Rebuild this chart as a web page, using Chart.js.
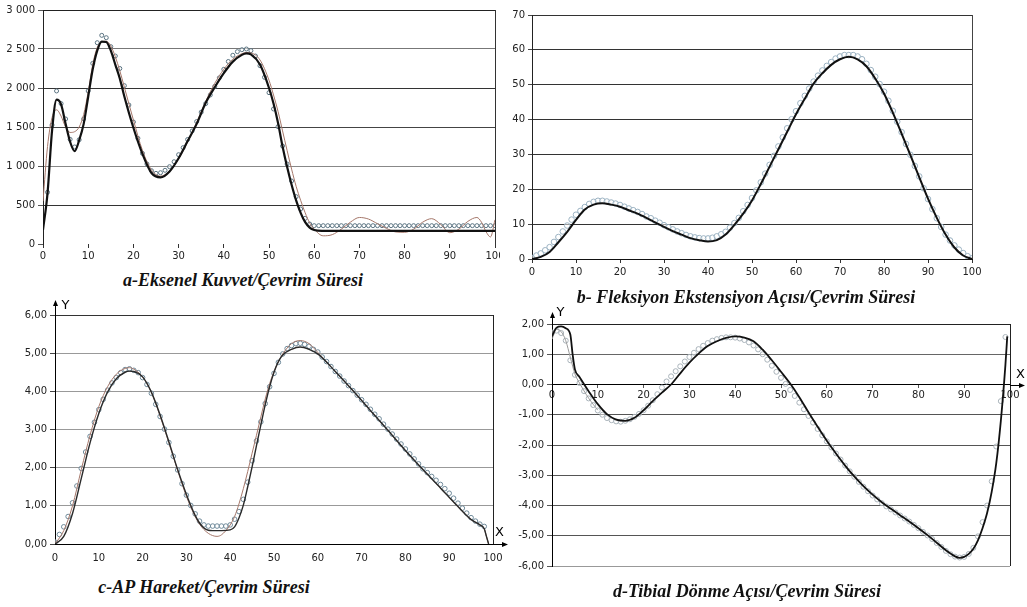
<!DOCTYPE html>
<html>
<head>
<meta charset="utf-8">
<script src="https://cdn.jsdelivr.net/npm/chart.js@4.4.1/dist/chart.umd.min.js"></script>
<style>
  html, body { margin: 0; padding: 0; background: #fff; width: 1027px; height: 607px; overflow: hidden; position: relative; }
  canvas { position: absolute; }
  .ttl { position: absolute; font-family: "Liberation Serif", "Times New Roman", serif; font-style: italic; font-weight: bold; font-size: 18px; color: #111; text-align: center; white-space: nowrap; line-height: 20px; }
</style>
</head>
<body>
<canvas id="chartA" width="500" height="268" style="left:0;top:0"></canvas>
<canvas id="chartB" width="527" height="285" style="left:500px;top:0"></canvas>
<canvas id="chartC" width="520" height="270" style="left:0;top:300px"></canvas>
<canvas id="chartD" width="527" height="275" style="left:500px;top:300px"></canvas>
<div class="ttl" style="left:43px;width:400px;top:270px">a-Eksenel Kuvvet/Çevrim Süresi</div>
<div class="ttl" style="left:546px;width:400px;top:287px">b- Fleksiyon Ekstensiyon Açısı/Çevrim Süresi</div>
<div class="ttl" style="left:4px;width:400px;top:577px">c-AP Hareket/Çevrim Süresi</div>
<div class="ttl" style="left:547px;width:400px;top:581px">d-Tibial Dönme Açısı/Çevrim Süresi</div>
<script>
(() => {
    "use strict";

    // a - axial force; circles sit at x = 0..100 (index = x)
    const aCircle = [
        null, 663, 1526, 1962, 1800, 1603, 1342, 1244, 1336, 1603,
        1962, 2316, 2581, 2675, 2645, 2530, 2410, 2250, 2030, 1782,
        1564, 1355, 1162, 1026, 940, 906, 914, 945, 991, 1055,
        1145, 1235, 1340, 1450, 1570, 1690, 1800, 1910, 2020, 2130,
        2240, 2340, 2420, 2466, 2491, 2500, 2479, 2410, 2286, 2137,
        1940, 1731, 1504, 1256, 1026, 808, 607, 449, 329, 256,
        235, 235, 235, 235, 235, 235, 235, 235, 235, 235,
        235, 235, 235, 235, 235, 235, 235, 235, 235, 235,
        235, 235, 235, 235, 235, 235, 235, 235, 235, 235,
        235, 235, 235, 235, 235, 235, 235, 235, 235, 235,
        235
    ];
    const aLineX = [0, 1, 2, 3, 4, 5, 6, 7, 8, 9, 10, 11, 12, 13, 14, 15, 16, 17, 18,
        20, 22, 24, 26, 28, 30, 32, 34, 36, 38, 40, 42, 44, 45, 46, 48, 50,
        51, 52, 53, 54, 55, 56, 57, 58, 59, 60,
        62, 64, 66, 68, 70, 72, 74, 76, 78, 80, 82, 84, 86, 88, 90, 92, 94, 96, 97, 98, 99, 100];
    const aBlack = [180, 650, 1450, 1850, 1790, 1540, 1310, 1190, 1330, 1540, 1888, 2240, 2480, 2595, 2590, 2480, 2300, 2120, 1890,
        1490, 1155, 910, 855, 930, 1100, 1320, 1540, 1810, 2010, 2190, 2338, 2425, 2444, 2430, 2300, 2000,
        1800, 1550, 1250, 990, 760, 560, 400, 280, 210, 180,
        168, 167, 167, 167, 167, 167, 167, 167, 167, 167, 167, 167, 167, 167, 167, 167, 167, 167, 167, 167, 167, 167];
    const aBrown = [550, 1250, 1620, 1720, 1640, 1500, 1430, 1440, 1500, 1660, 1950, 2300, 2520, 2590, 2600, 2540, 2400, 2220, 2010,
        1590, 1200, 950, 870, 935, 1090, 1310, 1560, 1830, 2060, 2240, 2370, 2440, 2455, 2450, 2360, 2100,
        1910, 1700, 1450, 1200, 960, 740, 560, 400, 270, 190,
        105, 120, 190, 280, 340, 320, 260, 200, 155, 150, 190, 280, 325, 250, 145, 190, 290, 340, 280, 160, 90, 310];

    // b - flexion / extension angle
    const bCircle = [
        0.3, 1.0, 1.6, 2.5, 3.4, 4.9, 6.3, 7.9, 9.6, 11.3,
        12.7, 13.8, 14.9, 15.8, 16.4, 16.7, 16.7, 16.5, 16.2, 15.9,
        15.5, 15.0, 14.5, 14.0, 13.5, 12.9, 12.2, 11.7, 11.0, 10.4,
        9.7, 9.1, 8.5, 7.9, 7.4, 6.9, 6.5, 6.2, 6.0, 5.9,
        5.9, 6.1, 6.5, 7.1, 7.8, 9.0, 10.3, 11.8, 13.7, 15.5,
        17.5, 19.7, 22.0, 24.5, 27.0, 29.6, 32.3, 34.9, 37.5, 40.1,
        42.4, 44.7, 46.8, 48.9, 50.9, 52.6, 54.1, 55.4, 56.5, 57.5,
        58.1, 58.5, 58.5, 58.5, 58.1, 57.3, 56.0, 54.2, 52.3, 50.2,
        48.0, 45.4, 42.5, 39.4, 36.4, 33.0, 29.9, 26.7, 23.7, 20.3,
        17.2, 14.3, 11.7, 9.2, 7.0, 5.3, 3.9, 2.7, 1.7, 0.8,
        0.2
    ];
    const bLineX = [0, 2, 4, 6, 8, 10, 12, 14, 16, 18, 20, 22, 24, 26, 28, 30, 32, 34, 36, 38, 40,
        42, 44, 46, 48, 50, 52, 54, 56, 58, 60, 62, 64, 66, 68, 70, 72, 74, 76, 78, 80,
        82, 84, 86, 88, 90, 92, 94, 96, 98, 100];
    const bBlack = [0, 0.6, 2, 4.8, 7.8, 11.2, 14.2, 15.6, 16, 15.6, 15, 14, 13, 11.8, 10.5, 9.2, 8, 7, 6, 5.4, 5,
        5.4, 7, 9.8, 13, 16.8, 21.5, 26.5, 31.5, 36.5, 41.5, 46, 50.3, 53.3, 55.7, 57.3, 58, 57.3, 55.3, 51.8, 47.5,
        42, 36, 29.8, 23.5, 17.3, 11.8, 7, 3.3, 1, 0];

    // c - AP motion
    const cCircle = [
        0.05, 0.25, 0.45, 0.72, 1.08, 1.52, 1.98, 2.41, 2.82, 3.19,
        3.52, 3.79, 4.03, 4.22, 4.36, 4.49, 4.57, 4.59, 4.55, 4.49,
        4.36, 4.18, 3.95, 3.66, 3.34, 3.01, 2.66, 2.30, 1.94, 1.58,
        1.28, 1.01, 0.79, 0.60, 0.50, 0.47, 0.47, 0.47, 0.47, 0.47,
        0.50, 0.65, 0.85, 1.17, 1.62, 2.18, 2.70, 3.20, 3.68, 4.12,
        4.47, 4.76, 4.98, 5.12, 5.20, 5.25, 5.26, 5.23, 5.18, 5.10,
        5.03, 4.90, 4.78, 4.65, 4.52, 4.40, 4.27, 4.15, 4.02, 3.90,
        3.78, 3.66, 3.53, 3.40, 3.28, 3.14, 3.01, 2.88, 2.75, 2.62,
        2.49, 2.36, 2.23, 2.10, 1.97, 1.87, 1.77, 1.67, 1.56, 1.45,
        1.33, 1.20, 1.07, 0.94, 0.81, 0.69, 0.60, 0.52, 0.46, null,
        null
    ];
    const cLineX = [0, 2, 4, 6, 8, 10, 12, 14, 16, 17, 18, 20, 22, 24, 26, 28, 30, 32, 33, 34, 35, 36, 37, 38,
        40, 41, 42, 43, 44, 45, 46, 47, 48, 49, 50, 51, 52, 54, 56, 58, 60,
        64, 68, 72, 76, 80, 84, 88, 92, 95, 97, 98, 98.5, 99];
    const cBlack = [0, 0.2, 0.8, 1.72, 2.65, 3.42, 3.98, 4.33, 4.5, 4.53, 4.52, 4.38, 3.98, 3.38, 2.68, 1.95, 1.3, 0.75, 0.55, 0.42, 0.36, 0.35, 0.35, 0.35,
        0.37, 0.45, 0.68, 1.02, 1.5, 2.02, 2.58, 3.12, 3.65, 4.12, 4.5, 4.78, 4.95, 5.1, 5.16, 5.1, 4.98,
        4.52, 4.02, 3.5, 2.98, 2.45, 1.95, 1.47, 0.98, 0.64, 0.5, 0.4, 0.2, 0];
    const cBrown = [0, 0.35, 1.0, 1.95, 2.85, 3.6, 4.12, 4.45, 4.6, 4.62, 4.58, 4.38, 3.98, 3.35, 2.65, 1.93, 1.25, 0.72, 0.52, 0.38, 0.28, 0.22, 0.2, 0.24,
        0.5, 0.72, 1.05, 1.45, 1.9, 2.38, 2.85, 3.33, 3.8, 4.2, 4.52, 4.78, 4.98, 5.25, 5.33, 5.25, 5.02,
        4.52, 4.02, 3.5, 2.98, 2.45, 1.95, 1.47, 0.98, 0.64, 0.5, 0.4, 0.2, 0];

    // d - tibial rotation angle
    const dCircle = [
        1.72, 1.78, 1.70, 1.45, 0.80, 0.32, 0.05, -0.22, -0.46, -0.68,
        -0.86, -1.00, -1.11, -1.18, -1.22, -1.23, -1.20, -1.15, -1.07, -0.97,
        -0.85, -0.70, -0.52, -0.32, -0.10, 0.10, 0.27, 0.44, 0.60, 0.76,
        0.91, 1.05, 1.17, 1.28, 1.37, 1.45, 1.50, 1.54, 1.56, 1.56,
        1.55, 1.52, 1.47, 1.39, 1.29, 1.16, 1.00, 0.82, 0.62, 0.42,
        0.22, 0.02, -0.18, -0.38, -0.60, -0.82, -1.04, -1.26, -1.47, -1.68,
        -1.88, -2.08, -2.28, -2.48, -2.68, -2.87, -3.05, -3.22, -3.38, -3.53,
        -3.67, -3.80, -3.92, -4.03, -4.13, -4.23, -4.33, -4.43, -4.53, -4.64,
        -4.75, -4.87, -4.99, -5.11, -5.24, -5.37, -5.50, -5.61, -5.69, -5.72,
        -5.70, -5.60, -5.40, -5.02, -4.55, -4.00, -3.20, -2.05, -0.55, 1.57,
        null
    ];
    const dLineX = [0, 1, 2, 3, 4, 4.5, 5, 6, 8, 10, 12, 14, 16, 18, 20, 22, 24, 26, 28, 30,
        32, 34, 36, 38, 40, 42, 44, 46, 48, 50, 52, 54, 56, 58, 60, 62, 64, 66, 68, 70,
        72, 74, 76, 78, 80, 82, 84, 86, 88, 89, 90, 91, 92, 93, 94, 95, 96, 97, 98, 99, 99.4];
    const dBlack = [1.6, 1.88, 1.92, 1.86, 1.65, 1.0, 0.5, 0.25, -0.22, -0.65, -0.98, -1.16, -1.2, -1.1, -0.85, -0.55, -0.27, 0.0, 0.37, 0.72,
        1.02, 1.27, 1.43, 1.54, 1.59, 1.55, 1.43, 1.15, 0.8, 0.42, 0.03, -0.42, -0.92, -1.4, -1.86, -2.28, -2.68, -3.04, -3.36, -3.64,
        -3.89, -4.11, -4.32, -4.53, -4.75, -4.98, -5.23, -5.48, -5.68, -5.73, -5.7, -5.6, -5.43, -5.15, -4.75, -4.25, -3.55, -2.6, -1.2, 0.65, 1.59];
    const dThinX = [0, 1, 2, 3, 4, 5, 6, 8, 10];
    const dThin = [1.5, 1.82, 1.75, 1.45, 0.9, 0.35, 0.05, -0.45, -0.85];

    const xTicks = [0, 10, 20, 30, 40, 50, 60, 70, 80, 90, 100];

    const pts = (xs, ys) => xs.map((x, i) => ({ x: x, y: ys[i] }));
    const byIndex = ys => ys.map((y, i) => ({ x: i, y: y }));
    const comma = v => v.toFixed(2).replace(".", ",");
    const tickFont = { family: "DejaVu Sans", size: 10 };

    // frame line on the right, arrows for the X / Y axes
    const decor = {
        id: "decor",
        afterDraw(chart, args, o) {
            const { ctx, chartArea: ca, scales } = chart;
            ctx.save();
            ctx.lineWidth = 1;
            if (o.rightLine) {
                ctx.strokeStyle = o.frameColor;
                ctx.beginPath();
                ctx.moveTo(ca.right + 0.5, ca.top);
                ctx.lineTo(ca.right + 0.5, ca.bottom);
                ctx.stroke();
            }
            if (o.arrows) {
                const ax = Math.round(ca.left) + 0.5;
                const ay = Math.round(scales.y.getPixelForValue(o.xAt)) + 0.5;
                ctx.strokeStyle = "#000";
                ctx.fillStyle = "#000";
                ctx.beginPath();
                ctx.moveTo(ax, ca.top);
                ctx.lineTo(ax, ca.top - o.up);
                ctx.moveTo(ca.right, ay);
                ctx.lineTo(ca.right + o.out, ay);
                ctx.stroke();
                ctx.beginPath();
                ctx.moveTo(ax, ca.top - o.up - 3);
                ctx.lineTo(ax - 2.5, ca.top - o.up + 3);
                ctx.lineTo(ax + 2.5, ca.top - o.up + 3);
                ctx.closePath();
                ctx.moveTo(ca.right + o.out + 3, ay);
                ctx.lineTo(ca.right + o.out - 3, ay - 2.5);
                ctx.lineTo(ca.right + o.out - 3, ay + 2.5);
                ctx.closePath();
                ctx.fill();
                ctx.font = "13px 'DejaVu Sans'";
                ctx.textAlign = "left";
                ctx.textBaseline = "middle";
                ctx.fillText("Y", ax + o.yDx, ca.top + o.yDy);
                ctx.fillText("X", ca.right + o.xDx, ay + o.xDy);
            }
            ctx.restore();
        }
    };

    const fixW = w => s => { s.width = w; s.paddingTop = 0; s.paddingBottom = 0; };
    const fixH = h => s => { s.height = h; s.paddingLeft = 0; s.paddingRight = 0; };

    const circleSet = (data, color, r) => ({
        data: data,
        showLine: false,
        pointRadius: r,
        pointBorderWidth: 1,
        pointBorderColor: color,
        pointBackgroundColor: "rgba(255,255,255,0.5)"
    });
    const lineSet = (data, color, w) => ({
        data: data,
        borderColor: color,
        borderWidth: w,
        pointRadius: 0,
        cubicInterpolationMode: "monotone",
        fill: false
    });

    function xScale(height, extra) {
        return Object.assign({
            type: "linear",
            min: 0,
            max: 100,
            afterFit: fixH(height),
            afterBuildTicks: s => { s.ticks = xTicks.map(v => ({ value: v })); },
            grid: { drawOnChartArea: false, drawTicks: true, tickLength: 4, color: "#333" },
            border: { display: false },
            ticks: { font: tickFont, color: "#222", padding: 2, maxRotation: 0, autoSkip: false }
        }, extra);
    }

    function makeChart(id, cfg) {
        return new Chart(document.getElementById(id), {
            type: "line",
            data: { datasets: cfg.datasets },
            plugins: [decor],
            options: {
                responsive: false,
                animation: false,
                layout: { padding: cfg.padding },
                plugins: { legend: { display: false }, tooltip: { enabled: false }, decor: cfg.decor },
                scales: { x: cfg.x, y: cfg.y }
            }
        });
    }

    // a
    const aGrid = { 3000: "#222", 2500: "#777", 2000: "#333", 1500: "#444", 1000: "#888", 500: "#333", 0: "rgba(0,0,0,0)" };
    makeChart("chartA", {
        padding: { top: 10, right: 4, left: 0, bottom: 0 },
        datasets: [
            lineSet(pts(aLineX, aBlack), "#111", 2.2),
            lineSet(pts(aLineX, aBrown), "#a5776a", 1),
            circleSet(byIndex(aCircle), "#5b7482", 2)
        ],
        x: xScale(24),
        y: {
            min: 0, max: 3000,
            afterFit: fixW(43),
            ticks: { stepSize: 500, font: tickFont, color: "#222", padding: 3,
                callback: v => v >= 1000 ? String(v).replace(/(\d)(\d{3})$/, "$1 $2") : String(v) },
            grid: { color: c => aGrid[c.tick.value] || "#555", tickLength: 5, tickColor: "#555" },
            border: { color: "#222" }
        },
        decor: { rightLine: true, frameColor: "#333", arrows: false }
    });

    // b
    makeChart("chartB", {
        padding: { top: 15, right: 55, left: 0, bottom: 0 },
        datasets: [
            lineSet(pts(bLineX, bBlack), "#111", 2),
            circleSet(byIndex(bCircle), "#9bb2c2", 2.8)
        ],
        x: xScale(26, {
            border: { display: true, color: "#111" },
            ticks: { font: tickFont, color: "#222", padding: 3, maxRotation: 0, autoSkip: false }
        }),
        y: {
            min: 0, max: 70,
            afterFit: fixW(32),
            ticks: { stepSize: 10, font: tickFont, color: "#222", padding: 3 },
            grid: { color: c => c.tick.value === 0 ? "rgba(0,0,0,0)" : "#333", tickLength: 4, tickColor: "#444" },
            border: { color: "#222" }
        },
        decor: { rightLine: true, frameColor: "#444", arrows: false }
    });

    // c
    makeChart("chartC", {
        padding: { top: 15, right: 27, left: 0, bottom: 0 },
        datasets: [
            lineSet(pts(cLineX, cBlack), "#2a2a2a", 1.4),
            lineSet(pts(cLineX, cBrown), "#a5776a", 1),
            circleSet(byIndex(cCircle), "#6f8a9a", 2.3)
        ],
        x: xScale(26, {
            border: { display: true, color: "#000" },
            grid: { drawOnChartArea: false, drawTicks: true, tickLength: 4, color: "rgba(0,0,0,0)" },
            ticks: { font: tickFont, color: "#222", padding: 4, maxRotation: 0, autoSkip: false }
        }),
        y: {
            min: 0, max: 6,
            afterFit: fixW(55),
            ticks: { stepSize: 1, font: tickFont, color: "#222", padding: 3, callback: v => comma(v) },
            grid: { color: c => c.tick.value === 6 ? "#333" : c.tick.value === 0 ? "rgba(0,0,0,0)" : "#999", tickLength: 5, tickColor: "#444" },
            border: { color: "#000" }
        },
        decor: { rightLine: true, frameColor: "#222", arrows: true, xAt: 0, up: 12, out: 12, yDx: 6, yDy: -9, xDx: 2, xDy: -12 }
    });

    // d
    const dGrid = { 2: "#222", 1: "#666", 0: "rgba(0,0,0,0)", "-6": "#999" };
    makeChart("chartD", {
        padding: { top: 24, right: 17, left: 0, bottom: 9 },
        datasets: [
            lineSet(pts(dLineX, dBlack), "#111", 1.8),
            lineSet(pts(dThinX, dThin), "#9a9a9a", 1),
            circleSet(byIndex(dCircle), "#a9b3ba", 2.5)
        ],
        x: xScale(20, {
            position: { y: 0 },
            border: { display: true, color: "#000" },
            grid: { drawOnChartArea: false, drawTicks: true, tickLength: 3, color: "#555" },
            ticks: { font: tickFont, color: "#222", padding: 2, maxRotation: 0, autoSkip: false }
        }),
        y: {
            min: -6, max: 2,
            afterFit: fixW(52),
            ticks: { stepSize: 1, font: tickFont, color: "#222", padding: 3, callback: v => comma(v) },
            grid: { color: c => dGrid[c.tick.value] || "#555", tickLength: 5, tickColor: "#555" },
            border: { color: "#000" }
        },
        decor: { rightLine: true, frameColor: "#222", arrows: true, xAt: 0, up: 9, out: 12, yDx: 4, yDy: -11, xDx: 6, xDy: -11 }
    });
})();
</script>
</body>
</html>
